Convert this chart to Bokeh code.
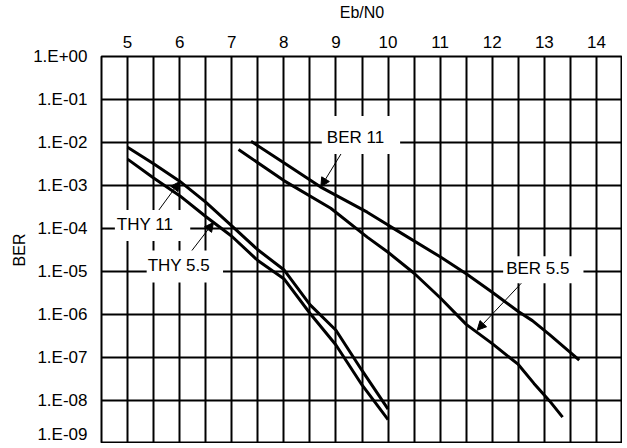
from bokeh.plotting import figure
from bokeh.models import (FixedTicker, CustomJSTickFormatter, Label, Arrow, NormalHead)
from bokeh.embed import file_html
from bokeh.resources import INLINE

# ---- data ----
x_ticks = [5, 6, 7, 8, 9, 10, 11, 12, 13, 14]
x_grid = [4.5, 5.0, 5.5, 6.0, 6.5, 7.0, 7.5, 8.0, 8.5, 9.0, 9.5, 10.0, 10.5,
          11.0, 11.5, 12.0, 12.5, 13.0, 13.5, 14.0, 14.5]
y_ticks = [1e0, 1e-1, 1e-2, 1e-3, 1e-4, 1e-5, 1e-6, 1e-7, 1e-8, 1e-9]
y_tick_labels = ["1.E+00", "1.E-01", "1.E-02", "1.E-03", "1.E-04",
                 "1.E-05", "1.E-06", "1.E-07", "1.E-08", "1.E-09"]

thy11_x = [5.0, 5.5, 6.0, 6.5, 7.0, 7.5, 8.0, 8.5, 9.0, 9.5, 10.0]
thy11_y = [7.8e-3, 3.2e-3, 1.26e-3, 4.1e-4, 1.15e-4, 3.2e-5, 1.1e-5, 1.7e-6, 4.3e-7, 5.0e-8, 6.3e-9]

thy55_x = [5.0, 5.5, 6.0, 6.5, 7.0, 7.5, 8.0, 8.5, 9.0, 9.5, 10.0]
thy55_y = [4.1e-3, 1.5e-3, 5.8e-4, 1.9e-4, 6.6e-5, 1.8e-5, 6.8e-6, 1.07e-6, 1.95e-7, 2.3e-8, 3.6e-9]

ber11_x = [7.37, 8.0, 8.7, 9.6, 10.0, 11.0, 11.5, 12.0, 12.5, 12.77, 13.1, 13.67]
ber11_y = [1.07e-2, 3.4e-3, 9.3e-4, 2.4e-4, 1.2e-4, 2.2e-5, 8.9e-6, 3.3e-6, 1.17e-6, 7.2e-7, 3.4e-7, 8.7e-8]

ber55_x = [7.13, 8.0, 8.9, 9.6, 10.0, 10.5, 11.0, 11.5, 12.0, 12.5, 12.8, 13.1, 13.35]
ber55_y = [6.9e-3, 1.3e-3, 2.95e-4, 6.3e-5, 2.8e-5, 9.1e-6, 2.45e-6, 5.9e-7, 2.1e-7, 6.9e-8, 2.5e-8, 9.8e-9, 4.1e-9]

# callouts: text, label position, arrow start, arrow end (data units)
call_text = ["BER 11", "THY 11", "THY 5.5", "BER 5.5"]
call_lx = [9.48, 5.48, 6.1, 12.98]
call_ly = [1.5e-2, 1.17e-4, 1.3e-5, 1.1e-5]
arr_x0 = [9.15, 5.56, 6.13, 12.58]
arr_y0 = [6.9e-3, 2.3e-4, 2.1e-5, 5.7e-6]
arr_x1 = [8.71, 6.0, 6.65, 11.71]
arr_y1 = [9.3e-4, 1.23e-3, 1.38e-4, 4.3e-7]

FONT = "Liberation Sans"

p = figure(width=622, height=443, x_range=(4.5, 14.5), y_range=(1e-9, 1.0),
           y_axis_type="log", x_axis_location="above",
           output_backend="svg", toolbar_location=None,
           min_border_left=101, min_border_right=0, min_border_top=55, min_border_bottom=0)

p.background_fill_color = "white"
p.border_fill_color = "white"
p.outline_line_color = "black"
p.outline_line_width = 2

# axes
xa = p.xaxis[0]
xa.ticker = FixedTicker(ticks=x_ticks)
xa.axis_label = "Eb/N0"
ya = p.yaxis[0]
ya.ticker = FixedTicker(ticks=y_ticks)
ya.formatter = CustomJSTickFormatter(args=dict(tv=y_ticks, tl=y_tick_labels), code="""
let best = 0, bd = Infinity;
for (let i = 0; i < tv.length; i++) {
  const d = Math.abs(Math.log10(tv[i]) - Math.log10(tick));
  if (d < bd) { bd = d; best = i; }
}
return tl[best];
""")
ya.axis_label = "BER"
for ax in (xa, ya):
    ax.axis_line_color = None
    ax.major_tick_line_color = None
    ax.minor_tick_line_color = None
    ax.major_tick_out = 0
    ax.major_tick_in = 0
    ax.major_label_text_font = FONT
    ax.major_label_text_font_size = "17px"
    ax.major_label_text_color = "black"
    ax.axis_label_text_font = FONT
    ax.axis_label_text_font_size = "16px"
    ax.axis_label_text_font_style = "normal"
    ax.axis_label_text_color = "black"
xa.major_label_standoff = 9
xa.axis_label_standoff = 12
ya.major_label_standoff = 14
ya.axis_label_standoff = 2

# grid
p.xgrid.ticker = FixedTicker(ticks=x_grid)
p.ygrid.ticker = FixedTicker(ticks=y_ticks)
for g in (p.xgrid, p.ygrid):
    g.grid_line_color = "black"
    g.grid_line_width = 2
    g.grid_line_alpha = 1.0

# curves
for xs, ys in ((thy11_x, thy11_y), (thy55_x, thy55_y), (ber11_x, ber11_y), (ber55_x, ber55_y)):
    p.line(xs, ys, line_color="black", line_width=3)

# callouts
pads = [dict(left=5, right=16, top=12, bottom=7),
        dict(left=2, right=17, top=5, bottom=7),
        dict(left=1, right=13, top=5, bottom=8),
        dict(left=3, right=14, top=3, bottom=5)]
for i in range(len(call_text)):
    p.add_layout(Arrow(end=NormalHead(size=9, fill_color="black", line_color="black", line_width=1),
                       x_start=arr_x0[i], y_start=arr_y0[i], x_end=arr_x1[i], y_end=arr_y1[i],
                       line_color="black", line_width=1))
    p.add_layout(Label(x=call_lx[i], y=call_ly[i], text=call_text[i],
                       text_font=FONT, text_font_size="17px", text_color="black",
                       text_align="center", text_baseline="middle",
                       background_fill_color="white", padding=pads[i]))

open("out.html", "w").write(file_html(p, INLINE))
